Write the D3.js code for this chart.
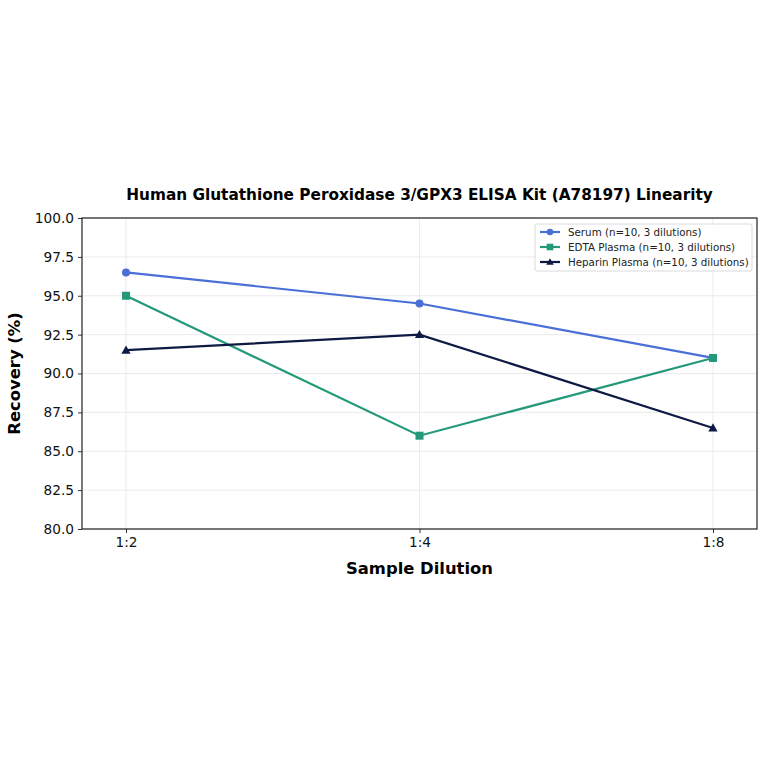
<!DOCTYPE html>
<html>
<head>
<meta charset="utf-8">
<script src="https://cdn.jsdelivr.net/npm/d3@7"></script>
<style>
  body { margin: 0; background: #fff; }
  svg { display: block; font-family: "DejaVu Sans", sans-serif; }
</style>
</head>
<body>
<div id="chart"></div>
<script>
// data ------------------------------------------------------------------
const dilutions = ['1:2', '1:4', '1:8'];
const serumValues = [96.5, 94.5, 91.0];
const edtaValues = [95.0, 86.0, 91.0];
const heparinValues = [91.5, 92.5, 86.5];
const seriesNames = ['Serum (n=10, 3 dilutions)', 'EDTA Plasma (n=10, 3 dilutions)', 'Heparin Plasma (n=10, 3 dilutions)'];
const yTicks = [80.0, 82.5, 85.0, 87.5, 90.0, 92.5, 95.0, 97.5, 100.0];

const series = [
  { name: seriesNames[0], values: serumValues, color: '#4A6FD6', shape: 'circle' },
  { name: seriesNames[1], values: edtaValues, color: '#23997A', shape: 'square' },
  { name: seriesNames[2], values: heparinValues, color: '#0E1A44', shape: 'triangle' }
];

// layout ----------------------------------------------------------------
const width = 764, height = 764;
const margin = { top: 218, right: 7, bottom: 235, left: 82 };
const plotW = width - margin.left - margin.right;
const plotH = height - margin.top - margin.bottom;

const svg = d3.select('#chart').append('svg')
  .attr('width', width)
  .attr('height', height);

const x = d3.scaleLinear().domain([-0.15, dilutions.length - 1 + 0.15]).range([margin.left, margin.left + plotW]);
const y = d3.scaleLinear().domain([80, 100]).range([margin.top + plotH, margin.top]);

// grid ------------------------------------------------------------------
const grid = svg.append('g');
grid.selectAll('.hgrid')
  .data(yTicks)
  .enter()
  .append('line')
  .attr('x1', margin.left).attr('x2', margin.left + plotW)
  .attr('y1', d => y(d)).attr('y2', d => y(d))
  .attr('stroke', '#e6e6e6').attr('stroke-width', 0.8);
grid.selectAll('.vgrid')
  .data(dilutions)
  .enter()
  .append('line')
  .attr('x1', (d, i) => x(i)).attr('x2', (d, i) => x(i))
  .attr('y1', margin.top).attr('y2', margin.top + plotH)
  .attr('stroke', '#e6e6e6').attr('stroke-width', 0.8);

// axes ------------------------------------------------------------------
const xAxis = svg.append('g')
  .attr('transform', 'translate(0,' + (margin.top + plotH) + ')')
  .call(d3.axisBottom(x).tickValues(d3.range(dilutions.length)).tickFormat(i => dilutions[i]).tickSize(4).tickPadding(4));
const yAxis = svg.append('g')
  .attr('transform', 'translate(' + margin.left + ',0)')
  .call(d3.axisLeft(y).tickValues(yTicks).tickFormat(d3.format('.1f')).tickSize(4).tickPadding(4));
[xAxis, yAxis].forEach(a => {
  a.select('.domain').remove();
  a.selectAll('text').attr('font-size', '13.7px').attr('fill', '#111').attr('font-family', '"DejaVu Sans", sans-serif');
  a.selectAll('line').attr('stroke', '#333');
});

svg.append('rect')
  .attr('x', margin.left).attr('y', margin.top)
  .attr('width', plotW).attr('height', plotH)
  .attr('fill', 'none').attr('stroke', '#222').attr('stroke-width', 1.2);

// lines + markers ---------------------------------------------------------
const line = d3.line().x((d, i) => x(i)).y(d => y(d));
const drawMarker = (g, shape, cx, cy, color, s) => {
  if (shape === 'circle') {
    g.append('circle').attr('cx', cx).attr('cy', cy).attr('r', s).attr('fill', color);
  } else if (shape === 'square') {
    g.append('rect').attr('x', cx - s).attr('y', cy - s).attr('width', s * 2).attr('height', s * 2).attr('fill', color);
  } else {
    const h = s * 1.15;
    g.append('path')
      .attr('d', `M${cx},${cy - h}L${cx + h},${cy + h * 0.75}L${cx - h},${cy + h * 0.75}Z`)
      .attr('fill', color);
  }
};

series.forEach(s => {
  const g = svg.append('g');
  g.append('path')
    .datum(s.values)
    .attr('d', line)
    .attr('fill', 'none')
    .attr('stroke', s.color)
    .attr('stroke-width', 2.2);
  s.values.forEach((v, i) => drawMarker(g, s.shape, x(i), y(v), s.color, 4));
});

// title and labels --------------------------------------------------------
svg.append('text')
  .attr('x', margin.left + plotW / 2).attr('y', 200)
  .attr('text-anchor', 'middle')
  .attr('font-size', '15.3px').attr('font-weight', 'bold')
  .text('Human Glutathione Peroxidase 3/GPX3 ELISA Kit (A78197) Linearity');
svg.append('text')
  .attr('x', margin.left + plotW / 2).attr('y', 574)
  .attr('text-anchor', 'middle')
  .attr('font-size', '16.4px').attr('font-weight', 'bold')
  .text('Sample Dilution');
svg.append('text')
  .attr('transform', 'translate(20,' + (margin.top + plotH / 2) + ') rotate(-90)')
  .attr('text-anchor', 'middle')
  .attr('font-size', '16.4px').attr('font-weight', 'bold')
  .text('Recovery (%)');

// legend ------------------------------------------------------------------
const legend = svg.append('g').attr('transform', 'translate(535,224)');
legend.append('rect')
  .attr('width', 217).attr('height', 47).attr('rx', 2)
  .attr('fill', '#fff').attr('fill-opacity', 0.85)
  .attr('stroke', '#d0d0d0').attr('stroke-width', 0.8);
series.forEach((s, i) => {
  const row = legend.append('g').attr('transform', 'translate(0,' + (8 + i * 15) + ')');
  row.append('line')
    .attr('x1', 5).attr('x2', 25).attr('y1', 0).attr('y2', 0)
    .attr('stroke', s.color).attr('stroke-width', 2.2);
  drawMarker(row, s.shape, 15, 0, s.color, 3.3);
  row.append('text')
    .attr('x', 33).attr('y', 3.7)
    .attr('font-size', '10.3px').attr('fill', '#222')
    .text(s.name);
});
</script>
</body>
</html>
